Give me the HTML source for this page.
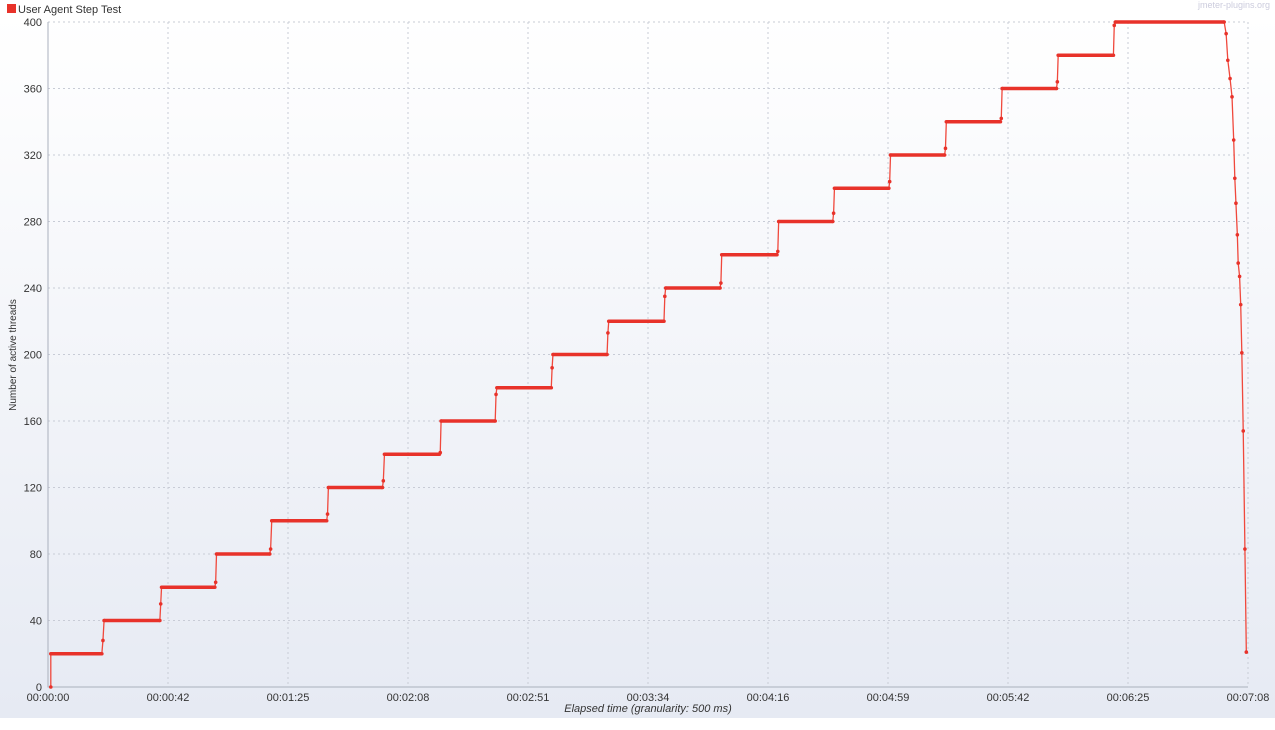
<!DOCTYPE html>
<html><head><meta charset="utf-8"><style>
body{margin:0;background:#fff;width:1275px;height:725px;overflow:hidden;font-family:"Liberation Sans","DejaVu Sans",sans-serif}
</style></head><body>
<svg id="chart" width="1275" height="725" xmlns="http://www.w3.org/2000/svg">
<defs><linearGradient id="bg" x1="0" y1="0" x2="0" y2="1"><stop offset="0" stop-color="#ffffff"/><stop offset="1" stop-color="#e6eaf3"/></linearGradient></defs>
<rect x="0" y="16" width="1275" height="702" fill="url(#bg)"/>
<rect x="7" y="4" width="9" height="9" fill="#e8322a"/>
<text x="18" y="13" font-size="11" fill="#333">User Agent Step Test</text>
<text x="1270" y="8" font-size="9" fill="#ccd" text-anchor="end">jmeter-plugins.org</text>
<text x="648" y="712" font-size="11" font-style="italic" fill="#333" text-anchor="middle">Elapsed time (granularity: 500 ms)</text>
<text x="0" y="0" font-size="10" fill="#333" text-anchor="middle" transform="translate(16,355) rotate(-90)">Number of active threads</text>
<g id="grid"></g><g id="axes"></g><g id="series"></g>
</svg>
<script>
const yTicks=[0,40,80,120,160,200,240,280,320,360,400];
const xTickSecs=[0,42.8,85.6,128.4,171.2,214,256.8,299.6,342.4,385.2,428];
const xTickLabels=["00:00:00","00:00:42","00:01:25","00:02:08","00:02:51","00:03:34","00:04:16","00:04:59","00:05:42","00:06:25","00:07:08"];
const times=[1,
1,19.2,19.6,
20,39.9,40.2,
40.5,59.5,59.8,
60.1,79.1,79.4,
79.8,99.4,99.7,
100,119.3,119.6,
120,139.6,139.9,
140.2,159.5,159.8,
160.1,179.5,179.8,
180.1,199.4,199.7,
200,219.7,220,
220.3,239.7,240,
240.3,260,260.3,
260.6,279.9,280.2,
280.5,299.9,300.2,
300.5,319.8,320.1,
320.4,339.7,340,
340.3,359.7,360,
360.3,380,380.3,
380.7,419.5,
420.2,420.8,421.6,422.3,422.9,423.3,423.7,424.2,424.5,425,425.4,425.8,426.3,426.9,427.4];
const values=[0,
20,20,28,
40,40,50,
60,60,63,
80,80,83,
100,100,104,
120,120,124,
140,140,141,
160,160,176,
180,180,192,
200,200,213,
220,220,235,
240,240,243,
260,260,262,
280,280,285,
300,300,304,
320,320,324,
340,340,342,
360,360,364,
380,380,398,
400,400,
393,377,366,355,329,306,291,272,255,247,230,201,154,83,21];
const X0=48,X1=1248,Y0=687,Y1=22,TMAX=428,VMAX=400;
const sx=t=>X0+t/TMAX*(X1-X0), sy=v=>Y0-v/VMAX*(Y0-Y1);
const NS="http://www.w3.org/2000/svg";
const g=document.getElementById('grid'),a=document.getElementById('axes'),s=document.getElementById('series');
function mk(tag,at,p){const e=document.createElementNS(NS,tag);for(const k in at)e.setAttribute(k,at[k]);p.appendChild(e);return e;}
yTicks.forEach(v=>{
 const l=mk('line',{x1:X0,x2:X1,y1:sy(v),y2:sy(v),stroke:'#c8ccd6','stroke-dasharray':'2,3'},g);
 
 
 const t=mk('text',{x:X0-6,y:sy(v)+4,'font-size':11,fill:'#333','text-anchor':'end'},a);
 t.textContent=v;
 
 
});
xTickSecs.forEach((sec,i)=>{
 const l=mk('line',{x1:sx(sec),x2:sx(sec),y1:Y1,y2:Y0,stroke:'#c8ccd6','stroke-dasharray':'2,3'},g);
 
 
 const t=mk('text',{x:sx(sec),y:Y0+14,'font-size':11,fill:'#333','text-anchor':'middle'},a);
 t.textContent=xTickLabels[i];
 
 
});
const ax=mk('path',{d:`M${X0},${Y1}V${Y0}H${X1}`,stroke:'#aab0bd',fill:'none'},a);


const pts=times.map((t,i)=>sx(t)+','+sy(values[i])).join(' ');
const ln=mk('polyline',{points:pts,fill:'none',stroke:'#f0483c','stroke-width':1.3},s);


for(let i=1;i<times.length;i++){
 if(values[i]===values[i-1]&&values[i]>0){
  const th=mk('line',{x1:sx(times[i-1]),x2:sx(times[i]),y1:sy(values[i]),y2:sy(values[i]),stroke:'#e8322a','stroke-width':3.5},s);
  
  
 }
}
times.forEach((t,i)=>{
 const c=mk('circle',{cx:sx(t),cy:sy(values[i]),r:1.8,fill:'#e8322a'},s);
 
 
});
</script>
</body></html>
